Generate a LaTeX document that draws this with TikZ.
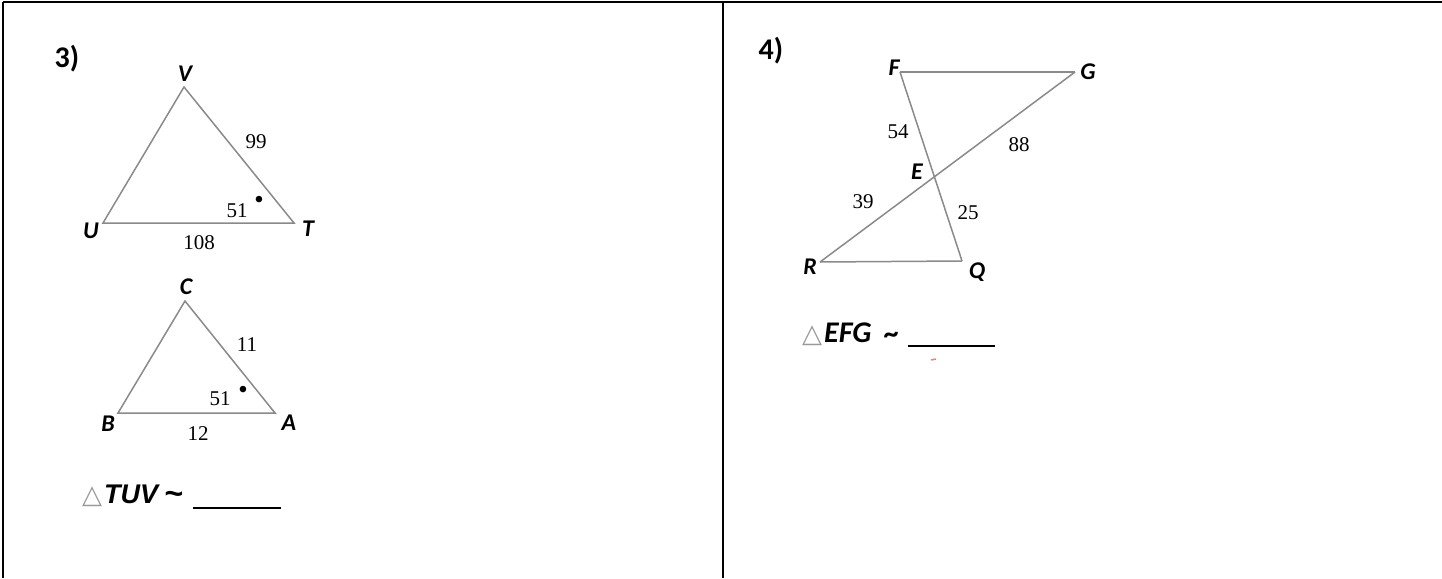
\documentclass[tikz,border=0pt]{standalone}
\usepackage{fontspec}
\setmainfont{Carlito}
\newfontfamily\numfont{Liberation Serif}
\newfontfamily\arialfont{Liberation Sans}
\newfontfamily\symfont{DejaVu Sans}
\usetikzlibrary{calc,intersections}
\definecolor{edgegray}{HTML}{8A8A8A}
\definecolor{markred}{HTML}{F08080}
\begin{document}
\begin{tikzpicture}[x=1pt,y=-1pt,
  border/.style={line width=2.2pt,black},
  side/.style={draw=edgegray,line width=1.5pt},
  vlab/.style={font=\fontsize{24}{24}\selectfont\bfseries\itshape,inner sep=0pt},
  num/.style={font=\numfont\fontsize{21}{21}\selectfont,inner sep=0pt},
  deg/.style={font=\numfont\fontsize{24}{24}\selectfont\bfseries,inner sep=0pt},
  qnum/.style={font=\fontsize{30}{30}\selectfont\bfseries,inner sep=0pt},
  blank/.style={line width=2.4pt,black},
  tri/.style={font=\symfont\fontsize{26}{26}\selectfont,text=gray!80,inner sep=0pt}]
\useasboundingbox (0,0) rectangle (1442,578);
% table borders
\coordinate (tl) at (3,2);
\coordinate (tr) at (1442,2);
\coordinate (bl) at (3,578);
\coordinate (tm) at (723,2);
\coordinate (bm) at (723,578);
\draw[border] (tl) -- (tr);
\draw[border] (tl) -- (bl);
\draw[border] (tm) -- (bm);

% ---------- problem 3 ----------
\node[qnum] (q3) at (67,59) {3)};
\coordinate (V) at (184,87);
\coordinate (U) at (103,223);
\coordinate (T) at (294,223);
\draw[side] (V) -- (U) -- (T) -- cycle;
\node[vlab] (lV) at (185,74) {V};
\node[vlab] (lU) at (91,231) {U};
\node[vlab] (lT) at (308,229) {T};
\node[num] (n99) at (256,142) {99};
\node[num] (n51a) at (237,211) {51};
\node[deg] (d1) at (259,202) {\textbullet};
\node[num] (n108) at (199,243) {108};

\coordinate (C) at (185,301);
\coordinate (B) at (118,413);
\coordinate (A) at (275,413);
\draw[side] (C) -- (B) -- (A) -- cycle;
\node[vlab] (lC) at (186,287) {C};
\node[vlab] (lB) at (108,424) {B};
\node[vlab] (lA) at (289,423) {A};
\node[num] (n11) at (247,345) {11};
\node[num] (n51b) at (220,399) {51};
\node[deg] (d2) at (243,392) {\textbullet};
\node[num] (n12) at (198,434) {12};

\node[tri] (t3) at (92,497) {△};
\node[anchor=west,inner sep=0pt,font=\arialfont\fontsize{27}{27}\selectfont\bfseries\itshape] (s3) at (104,494) {TUV};
\node[inner sep=0pt,font=\arialfont\fontsize{32}{32}\selectfont\bfseries] (tilde3) at (174,498) {\char"007E};
\coordinate (u3a) at (193,508);
\coordinate (u3b) at (281,508);
\draw[blank] (u3a) -- (u3b);

% ---------- problem 4 ----------
\node[qnum] (q4) at (771,51) {4)};
\coordinate (F) at (900,72);
\coordinate (G) at (1075,72);
\coordinate (R) at (820,262);
\coordinate (Q) at (962,261);
\draw[side] (F) -- (G);
\draw[side] (R) -- (Q);
\draw[side,name path=fq] (F) -- (Q);
\draw[side,name path=rg] (R) -- (G);
\path[name intersections={of=fq and rg,by=E}];
\node[vlab] (lF) at (894,68) {F};
\node[vlab] (lG) at (1088,72) {G};
\node[vlab] (lR) at (810,267) {R};
\node[vlab] (lQ) at (977,272) {Q};
\node[vlab] (lE) at (917,172) {E};
\node[num] (n54) at (898,132) {54};
\node[num] (n88) at (1019,145) {88};
\node[num] (n39) at (863,202) {39};
\node[num] (n25) at (968,213) {25};

\node[tri] (t4) at (812,336) {△};
\node[anchor=west,inner sep=0pt,font=\fontsize{30}{30}\selectfont\bfseries\itshape] (s4) at (824,333) {EFG};
\node[inner sep=0pt,font=\fontsize{30}{30}\selectfont\bfseries] (tilde4) at (891,338) {\char"007E};
\coordinate (u4a) at (908,346);
\coordinate (u4b) at (995,346);
\draw[blank] (u4a) -- (u4b);
\coordinate (m1) at (931,360);
\coordinate (m2) at (936,359);
\draw[markred,line width=1.5pt] (m1) -- (m2);
\end{tikzpicture}
\end{document}
